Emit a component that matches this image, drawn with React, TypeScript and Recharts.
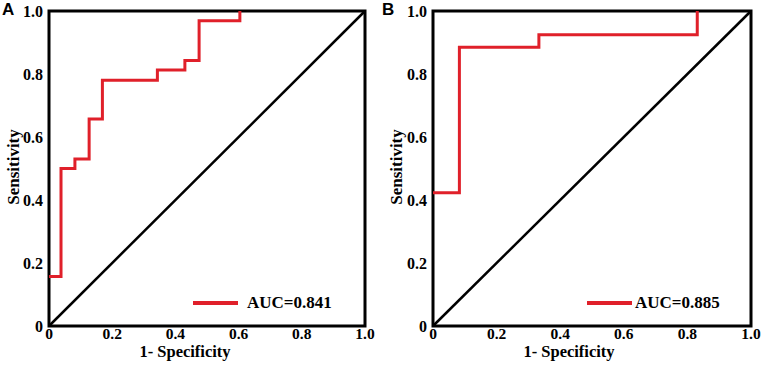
import React from 'react';
import { LineChart, Line, XAxis, YAxis, ReferenceArea, Legend, Label } from 'recharts';

// ROC curve points (false positive rate -> true positive rate), drawn as step curves
const fprA = [0, 0.038, 0.082, 0.127, 0.169, 0.343, 0.43, 0.475, 0.604];
const tprA = [0.157, 0.5, 0.53, 0.657, 0.78, 0.813, 0.843, 0.969, 1.0];
const fprB = [0, 0.083, 0.333, 0.831];
const tprB = [0.423, 0.885, 0.925, 1.0];
const aucA = 0.841;
const aucB = 0.885;

// reference (chance) diagonal
const chanceFpr = [0, 1];
const chanceTpr = [0, 1];

const axisTicks = [0, 0.2, 0.4, 0.6, 0.8, 1.0];

const RED = '#e0202a';
const SERIF = '"Liberation Serif", "Times New Roman", serif';
const SANS = '"Liberation Sans", Arial, sans-serif';

const toPoints = (xs: number[], ys: number[]) => xs.map((x, i) => ({ fpr: x, tpr: ys[i] }));
const fmtTick = (v: number) => (v === 0 ? '0' : v.toFixed(1));

const XTick = (props: any) => {
  const { x, y, payload } = props;
  return (
    <text x={x} y={y + 9} textAnchor="middle" fontFamily={SERIF} fontWeight={700} fontSize={15.5} fill="#000">
      {fmtTick(payload.value)}
    </text>
  );
};

const YTick = (props: any) => {
  const { x, y, payload } = props;
  return (
    <text x={x} y={y + 5.5} textAnchor="end" fontFamily={SERIF} fontWeight={700} fontSize={16} fill="#000">
      {fmtTick(payload.value)}
    </text>
  );
};

interface PanelProps {
  letter: string;
  fpr: number[];
  tpr: number[];
  auc: number;
  width: number;
  axisWidth: number;
  marginRight: number;
  yTitleX: number;
  xTitleShift: number;
  legendLeft: number;
  legendGap: number;
}

function RocPanel({ letter, fpr, tpr, auc, width, axisWidth, marginRight, yTitleX, xTitleShift, legendLeft, legendGap }: PanelProps) {
  const roc = toPoints(fpr, tpr);
  const chance = toPoints(chanceFpr, chanceTpr);
  return (
    <div style={{ position: 'relative', width, height: 365 }}>
      <div
        style={{
          position: 'absolute',
          left: 2,
          top: 0,
          fontFamily: SANS,
          fontWeight: 700,
          fontSize: 17,
          lineHeight: '19px',
        }}
      >
        {letter}
      </div>
      <LineChart width={width} height={365} margin={{ top: 11, right: marginRight, bottom: 0, left: 0 }}>
        <XAxis
          type="number"
          dataKey="fpr"
          domain={[0, 1]}
          ticks={axisTicks}
          axisLine={false}
          tickLine={false}
          tickSize={2}
          tickMargin={2}
          height={39}
          interval={0}
          tick={<XTick />}
        >
          <Label
            content={(props: any) => {
              const vb = props.viewBox;
              return (
                <text
                  x={vb.x + vb.width / 2 + xTitleShift}
                  y={356.5}
                  textAnchor="middle"
                  fontFamily={SERIF}
                  fontWeight={700}
                  fontSize={16.5}
                  fill="#000"
                >
                  1- Specificity
                </text>
              );
            }}
          />
        </XAxis>
        <YAxis
          type="number"
          dataKey="tpr"
          domain={[0, 1]}
          ticks={axisTicks}
          axisLine={false}
          tickLine={false}
          tickSize={4}
          tickMargin={2}
          width={axisWidth}
          interval={0}
          tick={<YTick />}
        >
          <Label
            content={() => (
              <text
                x={yTitleX}
                y={167}
                transform={`rotate(-90, ${yTitleX}, 167)`}
                textAnchor="middle"
                fontFamily={SERIF}
                fontWeight={700}
                fontSize={17}
                fill="#000"
              >
                Sensitivity
              </text>
            )}
          />
        </YAxis>
        <ReferenceArea x1={0} x2={1} y1={0} y2={1} fill="none" fillOpacity={0} stroke="#000" strokeWidth={3} />
        <Line
          data={chance}
          dataKey="tpr"
          type="linear"
          stroke="#000"
          strokeWidth={2.5}
          dot={false}
          activeDot={false}
          isAnimationActive={false}
          legendType="none"
        />
        <Line
          data={roc}
          dataKey="tpr"
          name={`AUC=${auc.toFixed(3)}`}
          type="stepAfter"
          stroke={RED}
          strokeWidth={3}
          dot={false}
          activeDot={false}
          isAnimationActive={false}
        />
        <Legend
          layout="horizontal"
          verticalAlign="middle"
          align="center"
          wrapperStyle={{ left: legendLeft, top: 293, width: 'auto', height: 20 }}
          content={() => (
            <div style={{ display: 'flex', alignItems: 'center', height: 20 }}>
              <span style={{ display: 'inline-block', width: 45, height: 4, background: RED }} />
              <span
                style={{
                  marginLeft: legendGap,
                  fontFamily: SERIF,
                  fontWeight: 700,
                  fontSize: 17,
                  color: '#000',
                  whiteSpace: 'nowrap',
                }}
              >
                AUC={auc.toFixed(3)}
              </span>
            </div>
          )}
        />
      </LineChart>
    </div>
  );
}

export default function App() {
  return (
    <div style={{ position: 'absolute', left: 0, top: 0, width: 761, height: 365, background: '#fff', display: 'flex' }}>
      <RocPanel
        letter="A"
        fpr={fprA}
        tpr={tprA}
        auc={aucA}
        width={380}
        axisWidth={49}
        marginRight={15}
        yTitleX={18.5}
        xTitleShift={-22}
        legendLeft={193}
        legendGap={9}
      />
      <RocPanel
        letter="B"
        fpr={fprB}
        tpr={tprB}
        auc={aucB}
        width={381}
        axisWidth={53}
        marginRight={10}
        yTitleX={21.5}
        xTitleShift={-23}
        legendLeft={207}
        legendGap={3}
      />
    </div>
  );
}
